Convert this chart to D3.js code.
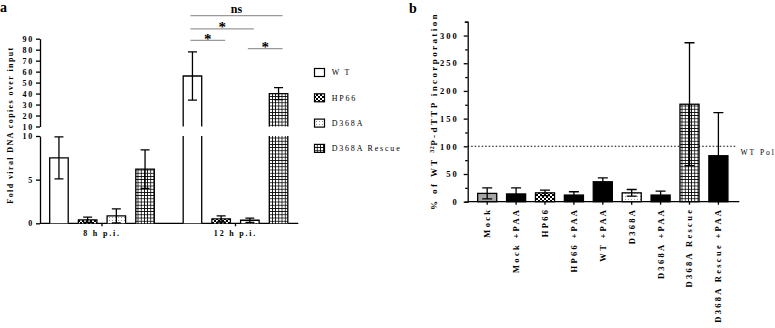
<!DOCTYPE html>
<html>
<head>
<meta charset="utf-8">
<script src="https://cdn.jsdelivr.net/npm/d3@7"></script>
<style>
  body { margin: 0; background: #fff; }
  svg { display: block; }
  svg text { font-family: "Liberation Serif", "DejaVu Serif", serif; fill: #000; }
</style>
</head>
<body>
<div id="chart"></div>
<script>
// ---- panel a data ----
const timepoints = ["8 h p.i.", "12 h p.i."];
const strains = ["WT", "HP66", "D368A", "D368A Rescue"];
const foldMeans = [[7.5, 0.4, 0.85, 6.2], [56, 0.5, 0.35, 40]];
const foldErrors = [[2.4, 0.3, 0.8, 2.2], [22, 0.35, 0.25, 5.5]];
const lowerTicks = [0, 5, 10];
const upperTicks = [10, 20, 30, 40, 50, 60, 70, 80, 90];
const bracketFrom = ["WT", "WT", "WT", "D368A"];
const bracketTo = ["D368A Rescue", "D368A", "HP66", "D368A Rescue"];
const bracketHeight = [111, 99, 88.5, 81];
const bracketLabel = ["ns", "*", "*", "*"];

// ---- panel b data ----
const samples = ["Mock", "Mock +PAA", "HP66", "HP66 +PAA", "WT +PAA", "D368A", "D368A +PAA", "D368A Rescue", "D368A Rescue +PAA"];
const incorporation = [15, 14, 16, 12, 36, 16, 12, 176, 83];
const incorporationErr = [10, 11, 5, 6, 7, 6, 7, 111, 78];
const sampleFill = ["mock", "black", "HP66", "black", "black", "D368A", "black", "D368A Rescue", "black"];
const incTicks = d3.range(0, 326, 25);
const wtPolLevel = 100;

const W = 775, H = 328;
const svg = d3.select("#chart").append("svg")
  .attr("width", W).attr("height", H);

// patterns
const defs = svg.append("defs");
const checker = defs.append("pattern").attr("id", "p-checker")
  .attr("patternUnits", "userSpaceOnUse").attr("width", 4).attr("height", 4);
checker.append("rect").attr("width", 4).attr("height", 4).attr("fill", "#000");
checker.append("rect").attr("width", 2).attr("height", 2).attr("fill", "#fff");
checker.append("rect").attr("x", 2).attr("y", 2).attr("width", 2).attr("height", 2).attr("fill", "#fff");

const dots = defs.append("pattern").attr("id", "p-dots")
  .attr("patternUnits", "userSpaceOnUse").attr("width", 3).attr("height", 3);
dots.append("rect").attr("width", 3).attr("height", 3).attr("fill", "#fff");
dots.append("rect").attr("x", 1).attr("y", 1).attr("width", 1).attr("height", 1).attr("fill", "#999");

const grid = defs.append("pattern").attr("id", "p-grid")
  .attr("patternUnits", "userSpaceOnUse").attr("width", 3.2).attr("height", 3.2);
grid.append("rect").attr("width", 3.2).attr("height", 3.2).attr("fill", "#fff");
grid.append("path").attr("d", "M0,0.4H3.2M0.4,0V3.2")
  .attr("stroke", "#000").attr("stroke-width", 0.8);

const fillFor = {
  "WT": "#fff",
  "HP66": "url(#p-checker)",
  "D368A": "url(#p-dots)",
  "D368A Rescue": "url(#p-grid)",
  "mock": "#a6a6a6",
  "black": "#000"
};

const tickFont = g => g.selectAll("text")
  .attr("font-size", 8).attr("font-weight", "bold")
  .attr("letter-spacing", 1.8);

// ================= panel a =================
const gA = svg.append("g");
gA.append("text").attr("x", 0).attr("y", 12)
  .attr("font-size", 14).attr("font-weight", "bold").text("a");

const yLow = d3.scaleLinear().domain([0, 10]).range([223.3, 136]);
const yHigh = d3.scaleLinear().domain([10, 90]).range([126.5, 38.7]);
const axisX = 40;

const xGroup = d3.scaleBand().domain(timepoints).range([35.25, 302.25]).padding(0);
const xStrain = d3.scaleBand().domain(strains).range([-57.4, 57.4])
  .paddingInner(0.355).paddingOuter(0.1775);
const bw = xStrain.bandwidth();

// y axes (broken)
gA.append("g").attr("transform", `translate(${axisX},0)`)
  .call(d3.axisLeft(yLow).tickValues(lowerTicks).tickSize(4).tickSizeOuter(0).tickPadding(2))
  .call(g => g.select(".domain").attr("stroke-width", 1.3))
  .call(g => g.selectAll(".tick line").attr("stroke-width", 1.3))
  .call(tickFont);
gA.append("g").attr("transform", `translate(${axisX},0)`)
  .call(d3.axisLeft(yHigh).tickValues(upperTicks).tickSize(4).tickSizeOuter(0).tickPadding(2))
  .call(g => g.select(".domain").attr("stroke-width", 1.3))
  .call(g => g.selectAll(".tick line").attr("stroke-width", 1.3))
  .call(tickFont);

gA.append("text")
  .attr("transform", `translate(13,125) rotate(-90)`)
  .attr("text-anchor", "middle").attr("font-size", 8).attr("font-weight", "bold")
  .attr("letter-spacing", 1.4)
  .text("Fold viral DNA copies over input");

// x axis
gA.append("line").attr("x1", axisX).attr("x2", 298.3)
  .attr("y1", yLow(0)).attr("y2", yLow(0)).attr("stroke", "#000").attr("stroke-width", 1.3);
gA.append("g").attr("transform", `translate(0,${yLow(0)})`)
  .call(d3.axisBottom(xGroup).tickSize(3).tickSizeOuter(0).tickPadding(4))
  .call(g => g.select(".domain").remove())
  .call(g => g.selectAll(".tick line").attr("stroke-width", 1.3))
  .call(tickFont);

// bars
const barsA = [];
timepoints.forEach((t, i) => strains.forEach((s, j) => {
  barsA.push({ t, s, v: foldMeans[i][j], e: foldErrors[i][j] });
}));
const bx = d => xGroup(d.t) + xGroup.bandwidth() / 2 + xStrain(d.s);

barsA.forEach(d => {
  const x0 = bx(d), x1 = x0 + bw;
  const lowTop = yLow(Math.min(d.v, 10));
  gA.append("rect").attr("x", x0).attr("y", lowTop)
    .attr("width", bw).attr("height", yLow(0) - lowTop).attr("fill", fillFor[d.s]);
  if (d.v > 10) {
    const top = yHigh(d.v);
    gA.append("rect").attr("x", x0).attr("y", top)
      .attr("width", bw).attr("height", yHigh(10) - top).attr("fill", fillFor[d.s]);
    gA.append("path")
      .attr("d", `M${x0},${yLow(0)}V${yLow(10)}M${x1},${yLow(0)}V${yLow(10)}M${x0},${yHigh(10)}V${top}H${x1}V${yHigh(10)}`)
      .attr("fill", "none").attr("stroke", "#000").attr("stroke-width", 1.3);
  } else {
    gA.append("path")
      .attr("d", `M${x0},${yLow(0)}V${lowTop}H${x1}V${yLow(0)}`)
      .attr("fill", "none").attr("stroke", "#000").attr("stroke-width", 1.3);
  }
  // error bar
  const ys = v => v > 10 ? yHigh(v) : yLow(v);
  const cx = x0 + bw / 2, cap = 4.5;
  const yT = ys(d.v + d.e), yB = ys(Math.max(0, d.v - d.e));
  gA.append("path")
    .attr("d", `M${cx},${yB}V${yT}M${cx - cap},${yT}H${cx + cap}M${cx - cap},${yB}H${cx + cap}`)
    .attr("fill", "none").attr("stroke", "#000").attr("stroke-width", 1.3);
});

// significance brackets
const cxOf = s => xGroup("12 h p.i.") + xGroup.bandwidth() / 2 + xStrain(s) + bw / 2;
bracketLabel.forEach((lab, i) => {
  const xa = cxOf(bracketFrom[i]) - 2, xb = cxOf(bracketTo[i]) + 4;
  const y = yHigh(bracketHeight[i]);
  gA.append("line").attr("x1", xa).attr("x2", xb).attr("y1", y).attr("y2", y)
    .attr("stroke", "#999").attr("stroke-width", 1.2);
  gA.append("text").attr("x", (xa + xb) / 2).attr("y", lab === "ns" ? y - 3 : y + 3.5)
    .attr("text-anchor", "middle").attr("font-weight", "bold")
    .attr("font-size", lab === "ns" ? 12 : 15)
    .text(lab);
});

// legend
const legend = gA.append("g");
strains.forEach((s, i) => {
  const y = 72.5 + i * 25.3;
  legend.append("rect").attr("x", 314.5).attr("y", y - 4).attr("width", 10).attr("height", 8)
    .attr("fill", fillFor[s]).attr("stroke", "#000").attr("stroke-width", 1.2);
  legend.append("text").attr("x", 331.7).attr("y", y + 2.8)
    .attr("font-size", 8).attr("letter-spacing", 1.8).text(s === "WT" ? "W T" : s);
});

// ================= panel b =================
const gB = svg.append("g");
gB.append("text").attr("x", 409).attr("y", 13)
  .attr("font-size", 14).attr("font-weight", "bold").text("b");

const yInc = d3.scaleLinear().domain([0, 325]).range([201.7, 21.7]);
const xSample = d3.scaleBand().domain(samples).range([472.75, 732.85])
  .paddingInner(0.34).paddingOuter(0.17);
const bAxisX = 467.7;

gB.append("g").attr("transform", `translate(${bAxisX},0)`)
  .call(d3.axisLeft(yInc).tickValues(incTicks)
    .tickFormat(d => d % 50 === 0 ? d : "").tickSizeOuter(3).tickPadding(3))
  .call(g => g.select(".domain").attr("stroke-width", 1.3))
  .call(g => g.selectAll(".tick line").attr("stroke-width", 1.3)
    .attr("x2", d => d % 50 === 0 ? -4 : -2.5))
  .call(g => g.selectAll("text").attr("font-size", 8.5).attr("font-weight", "bold")
    .attr("letter-spacing", 2));

const yTitle = gB.append("text")
  .attr("transform", `translate(437,111) rotate(-90)`)
  .attr("text-anchor", "middle").attr("font-size", 9).attr("font-weight", "bold")
  .attr("letter-spacing", 2.4);
yTitle.append("tspan").text("% of WT ");
yTitle.append("tspan").attr("font-size", 6).attr("dy", -3).attr("letter-spacing", 0.5).text("32");
yTitle.append("tspan").attr("dy", 3).text("P-dTTP incorporation");

// x axis
gB.append("line").attr("x1", bAxisX).attr("x2", 739.3)
  .attr("y1", yInc(0)).attr("y2", yInc(0)).attr("stroke", "#000").attr("stroke-width", 1.3);
gB.append("g").attr("transform", `translate(0,${yInc(0)})`)
  .call(d3.axisBottom(xSample).tickSize(3).tickSizeOuter(0).tickPadding(6))
  .call(g => g.select(".domain").remove())
  .call(g => g.selectAll(".tick line").attr("stroke-width", 1.3))
  .call(g => g.selectAll("text")
    .attr("font-size", 8.5).attr("font-weight", "bold").attr("letter-spacing", 2.3)
    .attr("text-anchor", "end").attr("dy", "0.35em")
    .attr("transform", "rotate(-90)").attr("x", -6).attr("y", 0));

// WT reference line
gB.append("line").attr("x1", bAxisX).attr("x2", 736.7)
  .attr("y1", yInc(wtPolLevel)).attr("y2", yInc(wtPolLevel))
  .attr("stroke", "#000").attr("stroke-width", 1.1).attr("stroke-dasharray", "1.5,2");
gB.append("text").attr("x", 740.5).attr("y", yInc(wtPolLevel) + 9)
  .attr("font-size", 7.5).attr("letter-spacing", 2).text("WT Pol");

// bars
const sbw = xSample.bandwidth();
samples.forEach((s, i) => {
  const x0 = xSample(s), v = incorporation[i], e = incorporationErr[i];
  gB.append("rect").attr("x", x0).attr("y", yInc(v))
    .attr("width", sbw).attr("height", yInc(0) - yInc(v))
    .attr("fill", fillFor[sampleFill[i]]).attr("stroke", "#000").attr("stroke-width", 1.3);
  const cx = x0 + sbw / 2, cap = 5;
  const yT = yInc(v + e), yB = yInc(Math.max(0, v - e));
  gB.append("path")
    .attr("d", `M${cx},${yB}V${yT}M${cx - cap},${yT}H${cx + cap}M${cx - cap},${yB}H${cx + cap}`)
    .attr("fill", "none").attr("stroke", "#000").attr("stroke-width", 1.3);
});
</script>
</body>
</html>
